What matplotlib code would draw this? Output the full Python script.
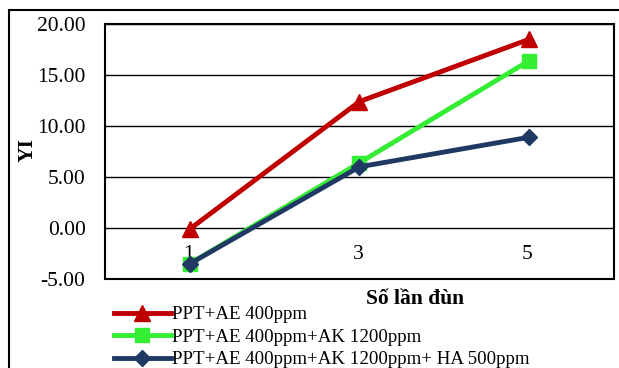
import matplotlib
matplotlib.use("Agg")
import matplotlib.pyplot as plt
from matplotlib.patches import Rectangle

categories = ["1", "3", "5"]
series_names = ["PPT+AE 400ppm", "PPT+AE 400ppm+AK 1200ppm", "PPT+AE 400ppm+AK 1200ppm+ HA 500ppm"]
red_vals = [-0.1, 12.4, 18.5]
green_vals = [-3.5, 6.4, 16.4]
navy_vals = [-3.5, 6.0, 8.9]
y_ticks = [-5, 0, 5, 10, 15, 20]

plt.rcParams['font.family'] = ['Liberation Serif', 'DejaVu Serif']

W, H = 619, 368
fig = plt.figure(figsize=(W/100, H/100), dpi=100)
fig.patches.append(Rectangle((9/W, -0.1), 1.0, (H-10)/H + 0.1, transform=fig.transFigure,
                             fill=False, edgecolor='black', linewidth=1.5))

ax = fig.add_axes([105/W, (H-279)/H, 509/W, 255/H])
xs = list(range(len(categories)))
styles = [
    (red_vals, '#C00000', '^', 11),
    (green_vals, '#33EE33', 's', 10),
    (navy_vals, '#1F3864', 'D', 8.5),
]
for (vals, c, m, ms), name in zip(styles, series_names):
    ax.plot(xs, vals, color=c, marker=m, markersize=ms, linewidth=3.5, label=name, zorder=3)

ax.set_xlim(-0.5, len(categories) - 0.5)
ax.set_ylim(-5, 20)
ax.set_yticks(y_ticks)
ax.set_yticklabels([f"{v:.2f}" for v in y_ticks], fontsize=15.5)
ax.tick_params(axis='y', length=0, pad=14)
ax.set_xticks([])
for x, lab in zip(xs, categories):
    ax.text(x - 0.01, -2.6, lab, ha='center', va='center', fontsize=15.5, zorder=2)
ax.grid(axis='y', color='black', linewidth=1)
ax.set_axisbelow(True)
for s in ax.spines.values():
    s.set_linewidth(1.5)

fig.text(28/W, 1 - 150/H, "YI", rotation=90, ha='center', va='center', fontsize=15.5, fontweight='bold')
fig.text(415/W, 1 - 299/H, "Số lần đùn", ha='center', va='center', fontsize=15.5, fontweight='bold')

fig.legend(loc='upper left', bbox_to_anchor=(114/W, 1 - 306/H), frameon=False, fontsize=13.6,
           handlelength=3.0, handletextpad=0.05, labelspacing=0.28, borderaxespad=0, borderpad=0)

fig.savefig("out.png", dpi=100)
